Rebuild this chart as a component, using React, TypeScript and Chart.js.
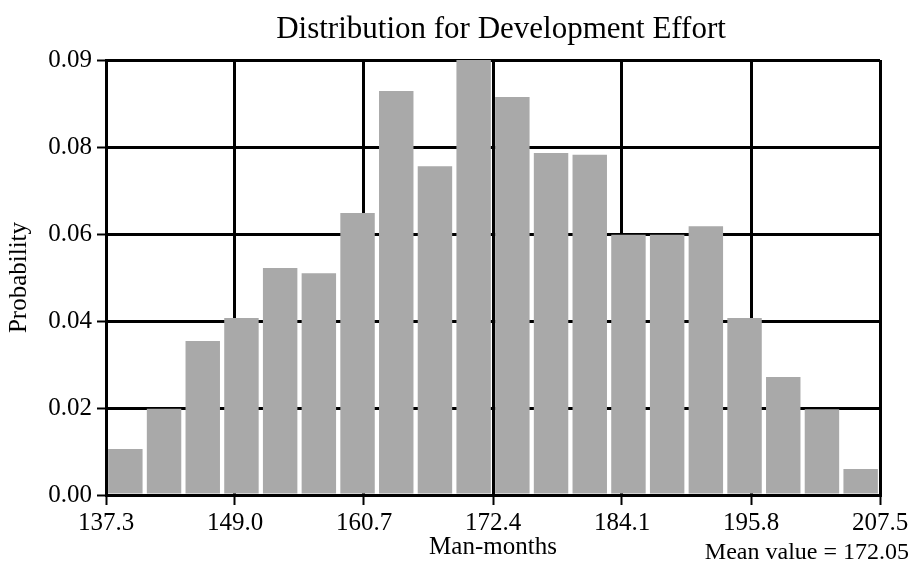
import React, { useEffect, useRef } from "react";
import { Chart, registerables } from "chart.js";

Chart.register(...registerables);

const chartTitle = "Distribution for Development Effort";
const xAxisTitle = "Man-months";
const yAxisTitle = "Probability";
const meanNote = "Mean value = 172.05";

// histogram bins (lower edge of each bin)
const binLabels = [
  "137.3", "140.8", "144.3", "147.8", "151.3", "154.9", "158.4", "161.9", "165.4", "168.9",
  "172.4", "175.9", "179.4", "182.9", "186.4", "190.0", "193.5", "197.0", "200.5", "204.0",
];
const probabilities = [
  0.0106, 0.0198, 0.0354, 0.0407, 0.0522, 0.0510, 0.0648, 0.0929, 0.0756, 0.1000,
  0.0915, 0.0786, 0.0782, 0.0598, 0.0598, 0.0618, 0.0407, 0.0271, 0.0197, 0.0060,
];

const xTickValues = [137.3, 149.0, 160.7, 172.4, 184.1, 195.8, 207.5];
const xTickLabels = ["137.3", "149.0", "160.7", "172.4", "184.1", "195.8", "207.5"];
const yTickValues = [0, 0.02, 0.04, 0.06, 0.08, 0.1];
const yTickLabels = ["0.00", "0.02", "0.04", "0.06", "0.08", "0.09"];

const FONT = '"Liberation Serif", "Times New Roman", serif';

export default function App() {
  const ref = useRef<HTMLCanvasElement | null>(null);

  useEffect(() => {
    document.body.style.margin = "0";
    const canvas = ref.current;
    if (!canvas) return;

    const textPlugin = {
      id: "extraText",
      afterDraw(chart: any) {
        const { ctx, chartArea } = chart;
        ctx.save();
        ctx.fillStyle = "#000";
        ctx.font = `31px ${FONT}`;
        ctx.textAlign = "center";
        ctx.textBaseline = "alphabetic";
        ctx.fillText(chartTitle, (chartArea.left + chartArea.right) / 2 + 8, 38);
        ctx.font = `24px ${FONT}`;
        ctx.textAlign = "right";
        ctx.fillText(meanNote, chart.width - 3, 559);
        ctx.restore();
      },
    };

    const chart = new Chart(canvas, {
      type: "bar",
      data: {
        labels: binLabels,
        datasets: [
          {
            data: probabilities,
            backgroundColor: "#a9a9a9",
            borderWidth: 0,
            barPercentage: 0.89,
            categoryPercentage: 1,
            xAxisID: "x",
            yAxisID: "y",
          },
        ],
      },
      options: {
        responsive: false,
        animation: false,
        devicePixelRatio: 1,
        layout: { padding: { top: 60, right: 32, left: 0, bottom: 0 } },
        plugins: {
          legend: { display: false },
          title: { display: false },
          tooltip: { enabled: false },
        },
        scales: {
          x: {
            type: "category",
            display: false,
            offset: true,
          },
          xt: {
            type: "linear",
            position: "bottom",
            min: 137.3,
            max: 207.5,
            offset: false,
            z: 1,
            afterBuildTicks: (scale: any) => {
              scale.ticks = xTickValues.map((v) => ({ value: v }));
            },
            afterFit: (scale: any) => {
              scale.height = 71;
            },
            ticks: {
              autoSkip: false,
              maxRotation: 0,
              color: "#000",
              padding: 3,
              font: { family: FONT, size: 25 },
              callback: (_v: any, i: number) => xTickLabels[i],
            },
            grid: {
              offset: false,
              color: "#000",
              lineWidth: 3,
              tickLength: 10,
              tickColor: "#000",
              tickWidth: 2,
            },
            border: { display: true, color: "#000", width: 3 },
            title: {
              display: true,
              text: xAxisTitle,
              color: "#000",
              font: { family: FONT, size: 25 },
              padding: { top: 0, bottom: 4 },
            },
          },
          y: {
            type: "linear",
            min: 0,
            max: 0.1,
            z: 1,
            afterBuildTicks: (scale: any) => {
              scale.ticks = yTickValues.map((v) => ({ value: v }));
            },
            afterFit: (scale: any) => {
              scale.width = 106;
            },
            ticks: {
              color: "#000",
              padding: 5,
              font: { family: FONT, size: 25 },
              callback: (_v: any, i: number) => yTickLabels[i],
            },
            grid: {
              color: "#000",
              lineWidth: 3,
              tickLength: 9,
              tickColor: "#000",
              tickWidth: 2,
            },
            border: { display: true, color: "#000", width: 3 },
            title: {
              display: true,
              text: yAxisTitle,
              color: "#000",
              font: { family: FONT, size: 25 },
              padding: { top: 4, bottom: 0 },
            },
          },
        },
      },
      plugins: [textPlugin],
    });

    return () => chart.destroy();
  }, []);

  return (
    <div style={{ width: 912, height: 566, background: "#fff" }}>
      <canvas ref={ref} width={912} height={566} />
    </div>
  );
}
